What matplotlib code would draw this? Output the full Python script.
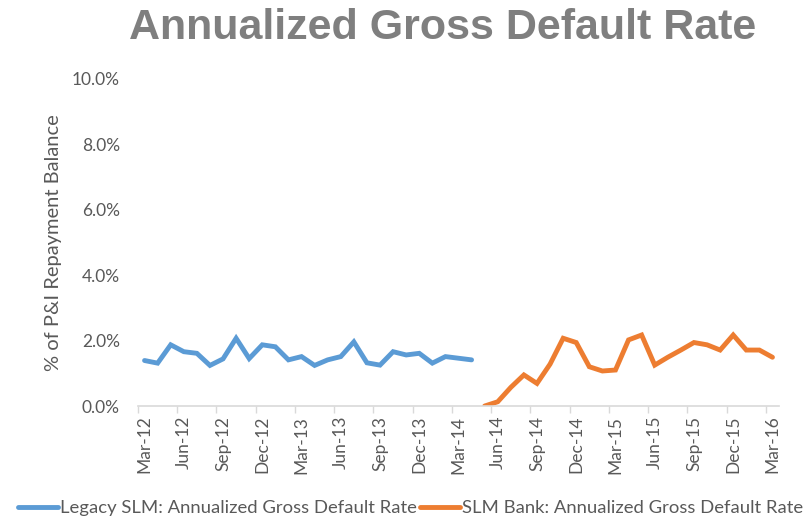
import pandas as pd
import matplotlib.pyplot as plt

# monthly categories, Mar-12 .. Mar-16
months = pd.date_range("2012-03-01", "2016-03-01", freq="MS")
month_labels = [d.strftime("%b-%y") for d in months]

# Legacy SLM, Mar-12 .. Apr-14 (%)
legacy = [1.39, 1.31, 1.87, 1.66, 1.61, 1.24, 1.44, 2.07, 1.45, 1.87,
          1.81, 1.41, 1.51, 1.24, 1.41, 1.51, 1.96, 1.32, 1.25, 1.66,
          1.56, 1.61, 1.31, 1.51, 1.46, 1.41]

# SLM Bank, May-14 .. Mar-16 (%)
bank = [0.00, 0.13, 0.57, 0.95, 0.69, 1.28, 2.07, 1.94, 1.20, 1.07,
        1.10, 2.02, 2.17, 1.25, 1.49, 1.71, 1.94, 1.87, 1.71, 2.17,
        1.71, 1.71, 1.49]

yticks = [0, 2, 4, 6, 8, 10]

BLUE = "#5B9BD5"
ORANGE = "#ED7D31"
GRAY = "#595959"


def main():
    plt.rcParams["font.family"] = ["Lato", "DejaVu Sans"]

    fig = plt.figure(figsize=(8.08, 5.21), dpi=100)
    ax = fig.add_axes([0.1708, 0.2207, 0.7933, 0.6282])

    x_legacy = list(range(len(legacy)))
    x_bank = list(range(len(legacy), len(legacy) + len(bank)))

    ax.plot(x_legacy, legacy, color=BLUE, lw=3.5, solid_capstyle="round",
            solid_joinstyle="miter",
            label="Legacy SLM: Annualized Gross Default Rate")
    ax.plot(x_bank, bank, color=ORANGE, lw=3.5, solid_capstyle="round",
            solid_joinstyle="miter",
            label="SLM Bank: Annualized Gross Default Rate")

    ax.set_xlim(-0.5, len(months) - 0.5)
    ax.set_ylim(0, 10)

    # labels at category centres, tick marks between categories
    lab_pos = list(range(0, len(months), 3))
    ax.set_xticks(lab_pos)
    ax.set_xticklabels([month_labels[i] for i in lab_pos], rotation=90,
                       fontsize=12.5, color=GRAY)
    ax.set_xticks([p - 0.5 for p in lab_pos], minor=True)
    ax.tick_params(axis="x", which="major", length=0, pad=7)
    ax.tick_params(axis="x", which="minor", length=5, color="#d9d9d9", width=1)

    ax.set_yticks(yticks)
    ax.set_yticklabels([f"{v:.1f}%" for v in yticks], fontsize=12.5, color=GRAY)
    ax.tick_params(axis="y", length=0, pad=13)
    ax.set_ylabel("% of P&I Repayment Balance", fontsize=14.5, color=GRAY,
                  labelpad=7)

    for s in ["left", "right", "top"]:
        ax.spines[s].set_visible(False)
    ax.spines["bottom"].set_color("#d9d9d9")
    ax.spines["bottom"].set_linewidth(1.2)

    fig.text(443 / 808, 1 - 28 / 521, "Annualized Gross Default Rate",
             ha="center", va="center", fontsize=31, fontweight="bold",
             color="#7f7f7f", family=["Liberation Sans", "DejaVu Sans"])

    fig.legend(loc="center", bbox_to_anchor=(0.508, 1 - 508 / 521), ncol=2,
               frameon=False, fontsize=13.3, handlelength=2.2,
               handletextpad=0.1, columnspacing=0.15, labelcolor=GRAY)

    fig.savefig("out.png", dpi=100)
    plt.close(fig)


if __name__ == "__main__":
    main()
